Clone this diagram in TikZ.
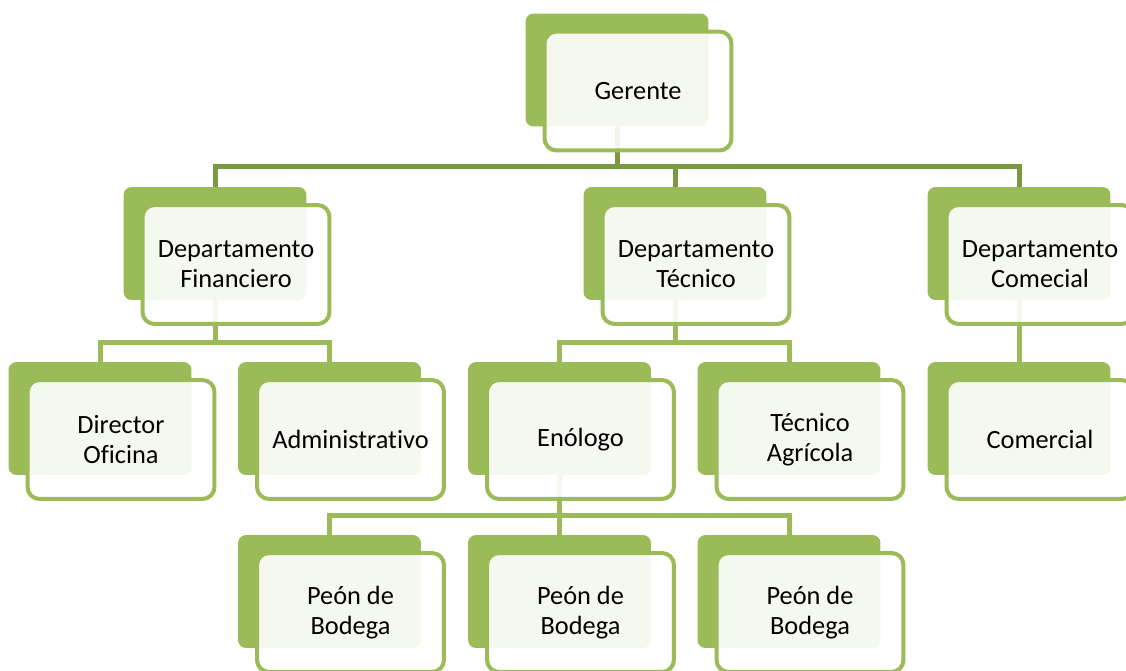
\documentclass[tikz,border=0pt]{standalone}
\usepackage{fontspec}
\setmainfont{Carlito}[Ligatures=NoCommon]
\definecolor{pistacho}{HTML}{9BBB59}
\definecolor{oliva}{HTML}{7A9943}

\begin{document}
\begin{tikzpicture}[x=0.02cm, y=-0.02cm,
    fondo/.style={rectangle, rounded corners=0.16cm, fill=pistacho, minimum width=3.66cm, minimum height=2.26cm, inner sep=0pt},
    cargo/.style={rectangle, rounded corners=0.24cm, draw=pistacho, line width=0.08cm, fill=white, fill opacity=0.9, text opacity=1, minimum width=3.74cm, minimum height=2.38cm, inner sep=0pt, align=center, font=\fontsize{15}{17}\selectfont, xshift=0.42cm, yshift=-0.42cm},
    enlace/.style={draw=pistacho, line width=0.1cm},
    enlace principal/.style={enlace, draw=oliva}]
      \useasboundingbox (0,0) rectangle (1126,670);
      \clip (0,0) rectangle (1126,670);

      \foreach \n/\x/\y in {gerente/617/70, financiero/215/243.5, tecnico/675/243.5, comercial/1019/243.5,
          director/100/418.5, administrativo/329.5/418.5, enologo/559.5/418.5, agricola/789/418.5, vendedor/1019/418.5,
          peon1/329.5/591.5, peon2/559.5/591.5, peon3/789/591.5} {
          \node[fondo] (\n-f) at (\x, \y) {};
      }

      \coordinate (bus0) at (617, 166);
      \coordinate (bus1) at (215, 342);
      \coordinate (bus2) at (675, 342);
      \coordinate (bus3) at (559.5, 515);

      \draw[enlace principal] (gerente-f.south) -- (bus0);
      \draw[enlace principal] (financiero-f.north) |- (bus0) -| (comercial-f.north);
      \draw[enlace principal] (tecnico-f.north) -- (tecnico-f.north |- bus0);

      \draw[enlace] (financiero-f.south) -- (bus1);
      \draw[enlace] (director-f.north) |- (bus1) -| (administrativo-f.north);
      \draw[enlace] (tecnico-f.south) -- (bus2);
      \draw[enlace] (enologo-f.north) |- (bus2) -| (agricola-f.north);
      \draw[enlace] (comercial-f.south) -- (vendedor-f.north);
      \draw[enlace] (enologo-f.south) -- (bus3);
      \draw[enlace] (peon1-f.north) |- (bus3) -| (peon3-f.north);
      \draw[enlace] (peon2-f.north) -- (bus3);

      \node[cargo] (gerente) at (gerente-f) {Gerente};
      \node[cargo] (financiero) at (financiero-f) {Departamento\\Financiero};
      \node[cargo] (tecnico) at (tecnico-f) {Departamento\\Técnico};
      \node[cargo] (comercial) at (comercial-f) {Departamento\\Comecial};
      \node[cargo] (director) at (director-f) {Director\\Oficina};
      \node[cargo] (administrativo) at (administrativo-f) {Administrativo};
      \node[cargo] (enologo) at (enologo-f) {Enólogo};
      \node[cargo] (agricola) at (agricola-f) {Técnico\\Agrícola};
      \node[cargo] (vendedor) at (vendedor-f) {Comercial};
      \node[cargo] (peon1) at (peon1-f) {Peón de\\Bodega};
      \node[cargo] (peon2) at (peon2-f) {Peón de\\Bodega};
      \node[cargo] (peon3) at (peon3-f) {Peón de\\Bodega};
    \end{tikzpicture}
\end{document}
